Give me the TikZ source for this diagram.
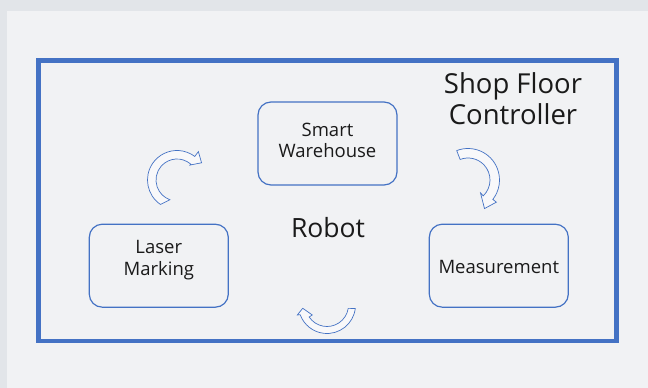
\documentclass[tikz,border=0pt]{standalone}
\usepackage{fontspec}
\setmainfont{Open Sans}
\definecolor{accent}{HTML}{4472C4}
\definecolor{bgouter}{HTML}{E2E5E9}
\definecolor{panel}{HTML}{F1F2F4}
\definecolor{ink}{HTML}{1A1A1A}
\begin{document}
\begin{tikzpicture}[x=1pt,y=1pt,
  stagebox/.style={draw=accent, line width=1.2pt, rounded corners=13pt,
    minimum width=139pt, minimum height=83pt, inner sep=0pt},
  boxlabel/.style={font=\fontsize{18.5}{21.5}\selectfont, text=ink, align=center, inner sep=0pt},
  titlelabel/.style={font=\fontsize{27.5}{30.8}\selectfont, text=ink, align=center, inner sep=0pt},
  robotlabel/.style={font=\fontsize{26.5}{30}\selectfont, text=ink, inner sep=0pt},
  cyclearrow/.style={draw=accent, line width=0.7pt, fill=panel!50!white, line join=miter}]
\useasboundingbox (0,0) rectangle (648,388);
\fill[bgouter] (0,0) rectangle (648,388);
\fill[panel] (7,0) rectangle (648,377);
% outer frame
\draw[accent, line width=4.5pt] (38.5,47) rectangle (616.5,327.5);
% stage boxes
\node[stagebox] (warehouse) at (327.5,244.5) {};
\node[stagebox] (laser) at (158.8,122.3) {};
\node[stagebox] (measure) at (498.8,122.3) {};
\node[boxlabel] (warehouselabel) at (327.5,247.85) {Smart\\Warehouse};
\node[boxlabel] (laserlabel) at (158.8,128.1) {Laser\\Marking};
\node[boxlabel] (measurelabel) at (498.8,121.3) {Measurement};
\node[titlelabel] (sfc) at (513,289) {Shop Floor\\Controller};
\node[robotlabel] (robot) at (328,160.6) {Robot};
% cycle arrows
\coordinate (tlc) at (177,208);
\coordinate (trc) at (468,208);
\coordinate (bc) at (327,83);
\draw[cyclearrow] ([shift={(tlc)}]236:29.5) arc[start angle=236, end angle=53, radius=29.5]
  -- ([shift={(tlc)}]53:35.5) -- ([shift={(tlc)}]35:30) -- ([shift={(tlc)}]49:19.8)
  -- ([shift={(tlc)}]49:21) arc[start angle=49, end angle=250, radius=21] -- cycle;
\draw[cyclearrow] ([shift={(trc)}]111:31.5) arc[start angle=111, end angle=-38, radius=31.5]
  -- ([shift={(trc)}]-38:36) -- ([shift={(trc)}]-60:33) -- ([shift={(trc)}]-46:18)
  -- ([shift={(trc)}]-46:22) arc[start angle=-46, end angle=111, radius=22] -- cycle;
\draw[cyclearrow] ([shift={(bc)}]-7:28.5) arc[start angle=-7, end angle=-160, radius=28.5]
  -- ([shift={(bc)}]-161.4:31.3) -- ([shift={(bc)}]-172.3:24.5) -- ([shift={(bc)}]-146:17.8)
  -- ([shift={(bc)}]-146:21.5) arc[start angle=-146, end angle=-9, radius=21.5] -- cycle;
\end{tikzpicture}
\end{document}
